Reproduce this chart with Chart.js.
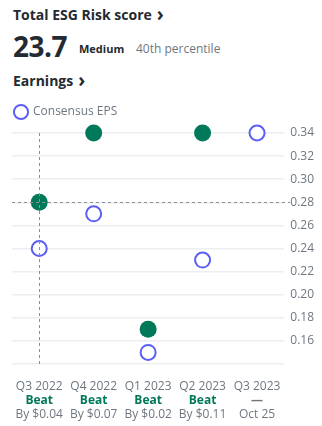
<!DOCTYPE html>
<html>
<head>
<meta charset="utf-8">
<script src="https://cdn.jsdelivr.net/npm/chart.js@4/dist/chart.umd.min.js"></script>
<style>
  html, body { margin: 0; padding: 0; background: #fff; }
  body { width: 322px; height: 426px; position: relative; overflow: hidden;
         font-family: "Open Sans", sans-serif; color: #232a31; }
  .h { position: absolute; left: 13px; font-weight: 700; white-space: nowrap; }
  #t1 { top: 5px; font-size: 14px; }
  #score { top: 29px; font-size: 28px; line-height: 34px; letter-spacing: -0.5px; }
  #level { position: absolute; left: 79px; top: 41px; font-size: 11px; font-weight: 700; }
  #pct { position: absolute; left: 136px; top: 40px; font-size: 12px; color: #6e7780; }
  #t2 { top: 71px; font-size: 14px; }
  .chev { font-size: 19px; line-height: 10px; margin-left: 5px; position: relative; top: 1px; }
  #wrap { position: absolute; left: 0; top: 100px; width: 322px; height: 326px; }
</style>
</head>
<body>
<div class="h" id="t1">Total ESG Risk score<span class="chev">&#x203A;</span></div>
<div class="h" id="score">23.7</div>
<div id="level">Medium</div>
<div id="pct">40th percentile</div>
<div class="h" id="t2">Earnings<span class="chev">&#x203A;</span></div>
<div id="wrap"><canvas id="c" width="322" height="326"></canvas></div>
<script>
// Quarterly EPS: reported vs. consensus estimate
const quarters = ["Q3 2022", "Q4 2022", "Q1 2023", "Q2 2023", "Q3 2023"];
const actualEps = [0.28, 0.34, 0.17, 0.34, null];
const consensusEps = [0.24, 0.27, 0.15, 0.23, 0.34];
const outcomes = ["Beat", "Beat", "Beat", "Beat", "\u2014"];
const outcomeNotes = ["By $0.04", "By $0.07", "By $0.02", "By $0.11", "Oct 25"];
const yTicks = [0.16, 0.18, 0.20, 0.22, 0.24, 0.26, 0.28, 0.30, 0.32, 0.34];

const GREEN = "#00785a";
const BLUE = "#5b5ff5";
const GREY = "#6e7780";
const FONT = "'Open Sans', sans-serif";

// Give the legend row a fixed height so the plot starts below it
const legendHeight = {
  id: "legendHeight",
  beforeInit(chart) {
    const legend = chart.legend;
    if (!legend) return;
    const fit = legend.fit;
    legend.fit = function () {
      fit.call(this);
      this.height = 30;
    };
  }
};

// Hover crosshair on the first reported quarter
const crosshair = {
  id: "crosshair",
  afterDatasetsDraw(chart) {
    const { ctx, chartArea, scales } = chart;
    const x = Math.round(scales.x.getPixelForValue(0));
    const y = Math.round(scales.y.getPixelForValue(actualEps[0]));
    ctx.save();
    ctx.strokeStyle = "#8a8f95";
    ctx.lineWidth = 1;
    ctx.setLineDash([3, 3]);
    ctx.beginPath();
    ctx.moveTo(x + 0.5, chartArea.top);
    ctx.lineTo(x + 0.5, chartArea.bottom);
    ctx.moveTo(chartArea.left, y + 0.5);
    ctx.lineTo(chartArea.right + 6, y + 0.5);
    ctx.stroke();
    ctx.restore();
  }
};

// Three-line quarter labels under the plot
const quarterLabels = {
  id: "quarterLabels",
  afterDraw(chart) {
    const { ctx, chartArea, scales } = chart;
    ctx.save();
    ctx.textAlign = "center";
    ctx.textBaseline = "middle";
    quarters.forEach((q, i) => {
      const x = scales.x.getPixelForValue(i);
      const b = chartArea.bottom;
      ctx.font = "12px " + FONT;
      ctx.fillStyle = GREY;
      ctx.fillText(q, x, b + 23);
      ctx.font = "bold 12px " + FONT;
      ctx.fillStyle = outcomes[i] === "Beat" ? GREEN : GREY;
      ctx.fillText(outcomes[i], x, b + 37);
      ctx.font = "12px " + FONT;
      ctx.fillStyle = GREY;
      ctx.fillText(outcomeNotes[i], x, b + 51);
    });
    ctx.restore();
  }
};

new Chart(document.getElementById("c"), {
  type: "line",
  data: {
    labels: quarters,
    datasets: [
      {
        label: "Actual EPS",
        data: actualEps,
        showLine: false,
        pointRadius: 8.5,
        pointBorderWidth: 0,
        pointBackgroundColor: GREEN,
        pointBorderColor: GREEN,
        borderColor: GREEN,
        backgroundColor: GREEN
      },
      {
        label: "Consensus EPS",
        data: consensusEps,
        showLine: false,
        pointRadius: 7.5,
        pointBorderWidth: 2,
        pointBackgroundColor: "#ffffff",
        pointBorderColor: BLUE,
        borderColor: BLUE,
        backgroundColor: "rgba(0,0,0,0)",
        borderWidth: 2
      }
    ]
  },
  options: {
    responsive: false,
    animation: false,
    clip: false,
    layout: { padding: { left: 12, right: 2, top: 3, bottom: 62 } },
    plugins: {
      tooltip: { enabled: false },
      legend: {
        position: "top",
        align: "start",
        labels: {
          filter: (item) => item.datasetIndex === 1,
          usePointStyle: true,
          pointStyle: "circle",
          boxHeight: 10,
          color: GREY,
          font: { size: 12, family: FONT },
          padding: 3
        }
      }
    },
    scales: {
      x: {
        type: "category",
        offset: true,
        display: false
      },
      y: {
        position: "right",
        min: 0.14,
        max: 0.34,
        border: { display: false },
        grid: { color: "#eceef1", lineWidth: 1.5, drawTicks: false },
        afterBuildTicks: (axis) => {
          axis.ticks = [0.14].concat(yTicks).map(v => ({ value: v }));
        },
        ticks: {
          padding: 6,
          color: GREY,
          font: { size: 12, family: FONT },
          callback: (v) => yTicks.some(t => Math.abs(t - v) < 1e-9) ? v.toFixed(2) : ""
        }
      }
    }
  },
  plugins: [legendHeight, crosshair, quarterLabels]
});
</script>
</body>
</html>
